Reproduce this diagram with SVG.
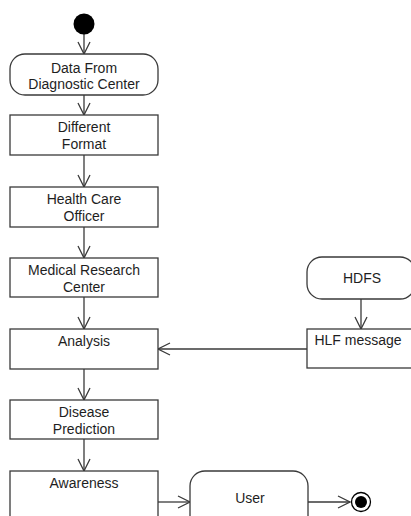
<svg xmlns="http://www.w3.org/2000/svg" width="411" height="516" viewBox="0 0 411 516">
<defs>
<style>
.n{fill:#fff;stroke:#3a3a3a;stroke-width:1.3}
.t{font-family:"Liberation Sans",Arial,sans-serif;font-size:14px;fill:#1e1e1e;text-anchor:middle}
.c{fill:none;stroke:#3a3a3a;stroke-width:1.3}
</style>
<marker id="ah" viewBox="0 0 14 14" refX="13" refY="7" markerWidth="14" markerHeight="14" markerUnits="userSpaceOnUse" orient="auto">
<polyline points="1,1 13,7 1,13" fill="none" stroke="#3a3a3a" stroke-width="1.3"/>
</marker>
</defs>
<rect width="411" height="516" fill="#fff"/>
<g id="connectors">
<line class="c" x1="84" y1="34" x2="84" y2="54" marker-end="url(#ah)"/>
<line class="c" x1="84" y1="95" x2="84" y2="115" marker-end="url(#ah)"/>
<line class="c" x1="84" y1="155" x2="84" y2="187" marker-end="url(#ah)"/>
<line class="c" x1="84" y1="227" x2="84" y2="258" marker-end="url(#ah)"/>
<line class="c" x1="84" y1="297" x2="84" y2="329" marker-end="url(#ah)"/>
<line class="c" x1="84" y1="369" x2="84" y2="400" marker-end="url(#ah)"/>
<line class="c" x1="84" y1="439" x2="84" y2="471" marker-end="url(#ah)"/>
<line class="c" x1="361" y1="299" x2="361" y2="329" marker-end="url(#ah)"/>
<line class="c" x1="307" y1="349" x2="158" y2="349" marker-end="url(#ah)"/>
<line class="c" x1="158" y1="502" x2="190" y2="502" marker-end="url(#ah)"/>
<line class="c" x1="308" y1="502" x2="350" y2="502" marker-end="url(#ah)"/>
</g>
<g id="start"><circle cx="84" cy="24" r="10.5" fill="#000"/></g>
<g id="data"><rect class="n" x="10" y="54" width="148" height="41" rx="15"/><text class="t" x="84" y="73">Data From</text><text class="t" x="84" y="89">Diagnostic Center</text></g>
<g id="format"><rect class="n" x="10" y="115" width="148" height="40"/><text class="t" x="84" y="132">Different</text><text class="t" x="84" y="149">Format</text></g>
<g id="hco"><rect class="n" x="10" y="187" width="148" height="40"/><text class="t" x="84" y="204">Health Care</text><text class="t" x="84" y="221">Officer</text></g>
<g id="mrc"><rect class="n" x="10" y="258" width="148" height="39"/><text class="t" x="84" y="275">Medical Research</text><text class="t" x="84" y="292">Center</text></g>
<g id="analysis"><rect class="n" x="10" y="329" width="148" height="40"/><text class="t" x="84" y="346">Analysis</text></g>
<g id="disease"><rect class="n" x="10" y="400" width="148" height="39"/><text class="t" x="84" y="417">Disease</text><text class="t" x="84" y="434">Prediction</text></g>
<g id="awareness"><rect class="n" x="10" y="471" width="148" height="60"/><text class="t" x="84" y="488">Awareness</text></g>
<g id="user"><rect class="n" x="190" y="471" width="118" height="60" rx="15"/><text class="t" x="250" y="503">User</text></g>
<g id="end"><circle cx="361" cy="502" r="9.5" fill="#fff" stroke="#000" stroke-width="1.3"/><circle cx="361" cy="502" r="6" fill="#000"/></g>
<g id="hdfs"><rect class="n" x="307" y="257" width="108" height="42" rx="15"/><text class="t" x="362" y="283">HDFS</text></g>
<g id="hlf"><rect class="n" x="307" y="329" width="108" height="39"/><text class="t" x="358" y="345">HLF message</text></g>
</svg>
